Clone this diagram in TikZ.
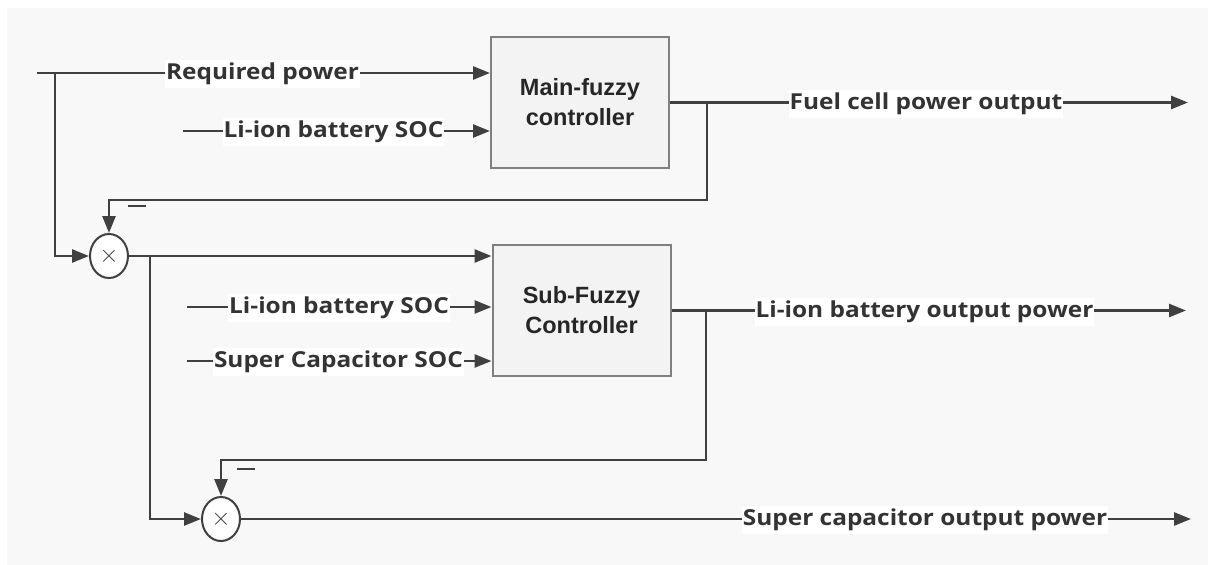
\documentclass[tikz,border=0pt]{standalone}
\usepackage{fontspec}
\usetikzlibrary{arrows.meta,shapes.geometric}
\newfontfamily\lblfont{Open Sans}[FakeStretch=1.11]
\newfontfamily\boxfont{Liberation Sans}
\definecolor{bg}{HTML}{F8F8F8}
\definecolor{ln}{HTML}{404040}
\definecolor{txt}{HTML}{333333}
\definecolor{boxfill}{HTML}{F3F3F3}
\definecolor{boxline}{HTML}{808080}
\begin{document}
\begin{tikzpicture}[x=1pt,y=-1pt,
  conn/.style={draw=ln,line width=2.6pt},
  arr/.style={conn,-{Triangle[length=17pt,width=13pt]}},
  ctrl/.style={draw=boxline,fill=boxfill,line width=2pt,minimum width=178pt,minimum height=131pt,align=center,font=\boxfont\bfseries\fontsize{23.5}{30}\selectfont,text=black!85},
  lbl/.style={fill=white,inner xsep=1pt,inner ysep=3pt,text=txt,font=\lblfont\bfseries\fontsize{22}{26}\selectfont},
  mult/.style={ellipse,draw=ln,fill=white,line width=2pt,minimum width=38pt,minimum height=44pt,inner sep=0pt,text=ln,font=\fontsize{26}{26}\selectfont},
  minus/.style={inner sep=0pt,text=ln}]
\useasboundingbox (0,0) rectangle (1208,565);
\fill[white] (0,0) rectangle (1208,565);
\fill[bg] (7,8) rectangle (1208,565);
% blocks
\node[ctrl] (main) at (580,102.5) {Main-fuzzy\\controller};
\node[ctrl] (sub) at (581.5,310.5) {Sub-Fuzzy\\Controller};
\node[mult] (m1) at (109,256) {$\times$};
\node[mult] (m2) at (221,519) {$\times$};
% free ends
\coordinate (rpStart) at (37,73);
\coordinate (br1) at (55,73);
\coordinate (soc1) at (183,131);
\coordinate (fcEnd) at (1188,102.5);
\coordinate (fb1) at (707,102.5);
\coordinate (fb1c) at (707,200);
\coordinate (br2) at (150,256);
\coordinate (soc2) at (187,307);
\coordinate (scsoc) at (187,361);
\coordinate (liEnd) at (1186,310.5);
\coordinate (fb2) at (706,310.5);
\coordinate (fb2c) at (706,460);
\coordinate (scEnd) at (1191,519);
% connectors
\draw[arr] (rpStart) -- (main.west |- rpStart);
\draw[arr] (br1) |- (m1.west);
\draw[arr] (soc1) -- (main.west |- soc1);
\draw[arr] (main.east) -- (fcEnd);
\draw[arr] (fb1) -- (fb1c) -| (m1.north);
\draw[arr] (m1.east) -- (sub.west |- m1.east);
\draw[arr] (br2) |- (m2.west);
\draw[arr] (soc2) -- (sub.west |- soc2);
\draw[arr] (scsoc) -- (sub.west |- scsoc);
\draw[arr] (sub.east) -- (liEnd);
\draw[arr] (fb2) -- (fb2c) -| (m2.north);
\draw[arr] (m2.east) -- (scEnd);
% labels
\node[lbl] (rpL) at (262.5,74) {Required power};
\node[lbl] (soc1L) at (333.5,132) {Li-ion battery SOC};
\node[lbl] (fcL) at (926,103.5) {Fuel cell power output};
\node[lbl] (soc2L) at (339,308) {Li-ion battery SOC};
\node[lbl] (scsocL) at (338.5,362) {Super Capacitor SOC};
\node[lbl] (liL) at (924.5,311.5) {Li-ion battery output power};
\node[lbl] (scL) at (925,520) {Super capacitor output power};
\node[minus] (minus1) at (137,206) {\rule{18pt}{1.6pt}};
\node[minus] (minus2) at (246,469) {\rule{18pt}{1.6pt}};
\end{tikzpicture}
\end{document}
